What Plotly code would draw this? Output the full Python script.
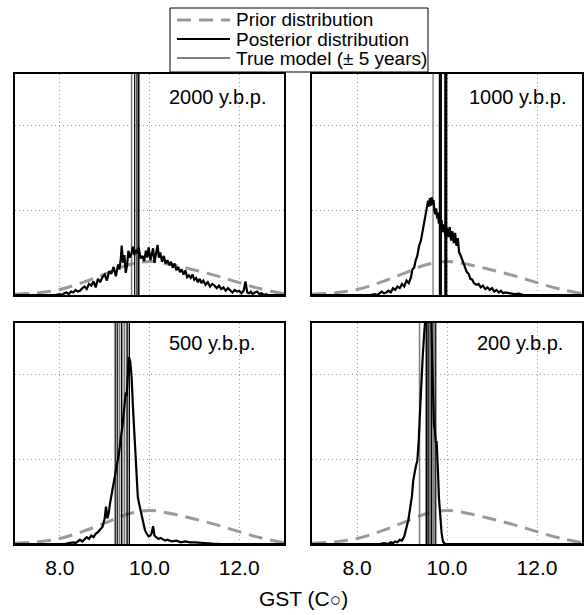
import plotly.graph_objects as go

W, H = 584, 615

panel_labels = ["2000 y.b.p.", "1000 y.b.p.", "500 y.b.p.", "200 y.b.p."]
legend_labels = ["Prior distribution", "Posterior distribution", "True model (± 5 years)"]
x_ticks = [8.0, 10.0, 12.0]
x_tick_text = ["8.0", "10.0", "12.0"]

# Prior distribution (same in every panel)
prior_x = [7.0, 7.5, 8.0, 8.5, 9.0, 9.5, 10.0, 10.5, 11.0, 11.5, 12.0, 12.5, 13.0]
prior_y = [0.01, 0.025, 0.065, 0.145, 0.245, 0.35, 0.395, 0.355, 0.295, 0.225, 0.145, 0.07, 0.015]

# Posterior distributions
post1_x = [7.0, 7.5, 7.9, 8.0, 8.05, 8.1, 8.15, 8.2, 8.25, 8.3, 8.35, 8.4, 8.45, 8.5, 8.55, 8.6, 8.65,
           8.7, 8.75, 8.8, 8.85, 8.9, 8.95, 9.0, 9.05, 9.1, 9.15, 9.2, 9.25, 9.3, 9.33, 9.36, 9.38,
           9.41, 9.44, 9.47, 9.5, 9.53, 9.56, 9.6, 9.63, 9.66, 9.7, 9.73, 9.76, 9.8, 9.84, 9.88, 9.92,
           9.95, 9.98, 10.02, 10.05, 10.08, 10.11, 10.14, 10.18, 10.21, 10.24, 10.28, 10.32, 10.36,
           10.4, 10.44, 10.48, 10.52, 10.56, 10.6, 10.64, 10.68, 10.72, 10.76, 10.8, 10.84, 10.88,
           10.92, 10.96, 11.0, 11.04, 11.08, 11.12, 11.16, 11.2, 11.25, 11.3, 11.35, 11.4, 11.45,
           11.5, 11.55, 11.6, 11.65, 11.7, 11.75, 11.8, 11.85, 11.9, 11.95, 12.0, 12.05, 12.1, 12.14,
           12.18, 12.22, 12.26, 12.3, 12.35, 12.4, 12.45, 12.5, 12.55, 12.6, 12.65, 13.0]
post1_y = [0.0, 0.0, 0.0, 0.01, 0.0, 0.02, 0.03, 0.01, 0.04, 0.03, 0.06, 0.04, 0.05, 0.08, 0.10, 0.07, 0.13,
           0.11, 0.16, 0.09, 0.19, 0.15, 0.21, 0.24, 0.17, 0.28, 0.25, 0.33, 0.22, 0.36, 0.30, 0.43, 0.58,
           0.38, 0.47, 0.26, 0.35, 0.52, 0.44, 0.49, 0.57, 0.47, 0.53, 0.49, 0.56, 0.43, 0.46, 0.40, 0.52,
           0.44, 0.56, 0.41, 0.48, 0.55, 0.38, 0.47, 0.59, 0.44, 0.50, 0.39, 0.46, 0.37,
           0.41, 0.35, 0.39, 0.32, 0.37, 0.29, 0.33, 0.27, 0.30, 0.24, 0.29, 0.21, 0.23,
           0.20, 0.24, 0.18, 0.20, 0.15, 0.19, 0.14, 0.17, 0.12, 0.15, 0.10, 0.13, 0.11,
           0.08, 0.11, 0.07, 0.09, 0.05, 0.08, 0.06, 0.03, 0.06, 0.04, 0.05, 0.02, 0.05, 0.16,
           0.03, 0.02, 0.04, 0.01, 0.03, 0.04, 0.01, 0.02, 0.0, 0.01, 0.0, 0.0]

post2_x = [7.0, 8.3, 8.4, 8.45, 8.5, 8.55, 8.6, 8.65, 8.7, 8.75, 8.8, 8.85, 8.9, 8.95, 9.0, 9.05, 9.1,
           9.15, 9.2, 9.23, 9.27, 9.3, 9.34, 9.38, 9.42, 9.46, 9.5, 9.53, 9.56, 9.58, 9.6, 9.62, 9.64,
           9.66, 9.68, 9.7, 9.72, 9.74, 9.76, 9.78, 9.8, 9.82, 9.84, 9.86, 9.88, 9.9, 9.93, 9.96, 10.0,
           10.03, 10.06, 10.09, 10.12, 10.15, 10.18, 10.21, 10.24, 10.27, 10.3, 10.33, 10.36, 10.4,
           10.44, 10.48, 10.52, 10.56, 10.6, 10.65, 10.7, 10.75, 10.8, 10.85, 10.9, 10.95, 11.0, 11.05,
           11.1, 11.15, 11.2, 11.25, 11.3, 11.4, 11.5, 11.6, 11.7, 13.0]
post2_y = [0.0, 0.0, 0.01, 0.0, 0.02, 0.04, 0.02, 0.03, 0.05, 0.03, 0.08, 0.06, 0.10, 0.08, 0.13, 0.10, 0.17,
           0.14, 0.21, 0.30, 0.32, 0.40, 0.46, 0.58, 0.64, 0.76, 0.84, 0.95, 1.02, 1.11, 1.04, 1.14, 1.05,
           1.15, 1.06, 1.12, 0.99, 0.95, 1.02, 0.90, 0.97, 0.84, 0.93, 0.78, 0.88, 0.74, 0.83, 0.70, 0.79,
           0.68, 0.80, 0.64, 0.75, 0.61, 0.73, 0.58, 0.67, 0.50, 0.47, 0.43, 0.38, 0.33,
           0.27, 0.25, 0.19, 0.18, 0.14, 0.12, 0.13, 0.09, 0.11, 0.07, 0.09, 0.06, 0.08, 0.04,
           0.06, 0.03, 0.05, 0.02, 0.03, 0.02, 0.01, 0.015, 0.0, 0.0]

post3_x = [7.0, 8.1, 8.2, 8.3, 8.35, 8.4, 8.45, 8.5, 8.55, 8.6, 8.65, 8.7, 8.75, 8.8, 8.85, 8.9, 8.95,
           9.0, 9.03, 9.06, 9.09, 9.12, 9.16, 9.2, 9.24, 9.28, 9.32, 9.36, 9.4, 9.44, 9.47, 9.49, 9.52,
           9.54, 9.57, 9.6, 9.63, 9.66, 9.69, 9.72, 9.74, 9.77, 9.8, 9.83, 9.86, 9.9, 9.94, 9.98, 10.02,
           10.05, 10.08, 10.11, 10.15, 10.2, 10.25, 10.3, 10.35, 10.4, 10.5, 10.6, 10.7, 10.8, 10.9,
           11.0, 11.2, 11.4, 11.6, 13.0]
post3_y = [0.0, 0.0, 0.01, 0.02, 0.01, 0.03, 0.05, 0.03, 0.06, 0.08, 0.06, 0.10, 0.08, 0.12, 0.14, 0.17, 0.20,
           0.30, 0.44, 0.30, 0.36, 0.48, 0.60, 0.70, 0.80, 0.93, 1.07, 1.25, 1.40, 1.62, 1.78, 1.74, 2.08,
           2.20, 2.15, 1.97, 1.62, 1.30, 1.00, 0.82, 0.55, 0.47, 0.40, 0.30, 0.22, 0.16, 0.12, 0.09, 0.10,
           0.13, 0.21, 0.10, 0.08, 0.06, 0.07, 0.05, 0.04, 0.05, 0.03, 0.04, 0.02, 0.03, 0.02,
           0.02, 0.01, 0.005, 0.0, 0.0]

post4_x = [7.0, 8.5, 8.6, 8.7, 8.75, 8.8, 8.85, 8.9, 8.95, 9.0, 9.05, 9.1, 9.14, 9.18, 9.22, 9.25, 9.28,
           9.31, 9.34, 9.37, 9.4, 9.43, 9.46, 9.49, 9.52, 9.55, 9.58, 9.62, 9.65, 9.67, 9.69, 9.71, 9.73,
           9.75, 9.77, 9.78, 9.8, 9.82, 9.85, 9.88, 9.91, 9.95, 13.0]
post4_y = [0.0, 0.0, 0.01, 0.0, 0.02, 0.01, 0.03, 0.02, 0.05, 0.04, 0.09, 0.18, 0.28, 0.42, 0.56, 0.75, 0.85,
           0.92, 0.98, 1.20, 1.55, 1.95, 2.20, 2.45, 2.70, 3.00, 3.10, 3.00, 2.70, 2.20, 1.80, 1.40, 1.35,
           1.20, 1.20, 0.95, 0.85, 0.55, 0.30, 0.13, 0.03, 0.0, 0.0]

posterior_x = [post1_x, post2_x, post3_x, post4_x]
posterior_y = [post1_y, post2_y, post3_y, post4_y]

# True model (+/- 5 years) lines: positions, black (1) or grey (0), line width
true1_x = [9.60, 9.67, 9.72, 9.76]
true1_k = [0, 1, 1, 1]
true1_w = [1.5, 1.2, 1.2, 1.6]
true2_x = [9.69, 9.84, 9.87, 9.96, 9.99]
true2_k = [0, 1, 1, 1, 1]
true2_w = [1.3, 2.0, 1.6, 2.0, 1.6]
true3_x = [9.235, 9.28, 9.33, 9.38, 9.44, 9.50, 9.55]
true3_k = [1, 1, 0, 1, 0, 1, 1]
true3_w = [1.2, 1.2, 1.8, 1.4, 1.8, 1.4, 1.4]
true4_x = [9.39, 9.54, 9.58, 9.62, 9.66, 9.71, 9.75]
true4_k = [0, 1, 1, 0, 1, 0, 1]
true4_w = [1.5, 1.5, 1.5, 2.0, 1.5, 1.8, 1.2]
true_x = [true1_x, true2_x, true3_x, true4_x]
true_k = [true1_k, true2_k, true3_k, true4_k]
true_w = [true1_w, true2_w, true3_w, true4_w]

X_RANGE = [7.0, 13.0]
Y_RANGE = [0.0, 2.6]
Y_GRID = [1.0, 2.0]

# layout in pixels
px_x = [(15, 284), (312, 582), (15, 284), (312, 582)]
px_y = [(74, 295), (74, 295), (323, 544), (323, 544)]
label_px = [(167, 97), (467, 97), (167, 343), (475, 343)]

FONT = "Liberation Sans, Arial, Helvetica, sans-serif"
PRIOR_LINE = dict(color="#999999", width=3, dash="14px,8px")
POST_LINE = dict(color="black", width=2.2)
TRUE_LINE = dict(color="black", width=1)
GRID = dict(showgrid=True, gridcolor="#9a9a9a", griddash="1px,3px", gridwidth=1)
FRAME = dict(showline=True, linecolor="black", linewidth=1.6, mirror=True, zeroline=False)


def px2p(x, y):
    return x / W, 1 - y / H


fig = go.Figure()
layout = dict(
    width=W, height=H, margin=dict(l=0, r=0, t=0, b=0),
    paper_bgcolor="white", plot_bgcolor="white",
    font=dict(family=FONT, color="black", size=20),
    showlegend=False,
)
annotations = []
shapes = []
for i in range(4):
    n = "" if i == 0 else str(i + 1)
    xa, ya = "x" + n, "y" + n
    x0, x1 = px_x[i]
    y0, y1 = px_y[i]
    bottom = i >= 2
    layout["xaxis" + n] = dict(
        domain=[x0 / W, x1 / W], anchor=ya, range=X_RANGE,
        tickvals=x_ticks, ticktext=x_tick_text, showticklabels=bottom,
        tickfont=dict(size=21), ticks="", ticklabelstandoff=4, **GRID, **FRAME,
    )
    layout["yaxis" + n] = dict(
        domain=[1 - y1 / H, 1 - y0 / H], anchor=xa, range=Y_RANGE,
        tickvals=Y_GRID, showticklabels=False, ticks="", **GRID, **FRAME,
    )
    fig.add_trace(go.Scatter(x=prior_x, y=prior_y, xaxis=xa, yaxis=ya, mode="lines",
                             line=dict(**PRIOR_LINE, shape="spline"), name=legend_labels[0]))
    for tx, k, w in zip(true_x[i], true_k[i], true_w[i]):
        fig.add_trace(go.Scatter(x=[tx, tx], y=Y_RANGE, xaxis=xa, yaxis=ya, mode="lines",
                                 line=dict(color="black" if k else "#7a7a7a", width=w),
                                 name=legend_labels[2], hoverinfo="skip"))
    fig.add_trace(go.Scatter(x=posterior_x[i], y=posterior_y[i], xaxis=xa, yaxis=ya, mode="lines",
                             line=POST_LINE, name=legend_labels[1]))
    lx, ly = label_px[i]
    ax_, ay_ = px2p(lx, ly)
    annotations.append(dict(text=panel_labels[i], x=ax_, y=ay_, xref="paper", yref="paper",
                            xanchor="left", yanchor="middle", showarrow=False,
                            font=dict(size=20, family=FONT, color="black")))

# Legend box (drawn manually to match the reference's compact layout)
bx0, by0 = px2p(170, 8)
bx1, by1 = px2p(428, 72)
shapes.append(dict(type="rect", xref="paper", yref="paper", x0=bx0, x1=bx1, y0=by1, y1=by0,
                   line=dict(color="black", width=1), fillcolor="white", layer="above"))
row_y = [20, 39, 58]
row_lines = [PRIOR_LINE, dict(color="black", width=2.2), TRUE_LINE]
for lab, ry, ln in zip(legend_labels, row_y, row_lines):
    lx0, ly = px2p(177, ry)
    lx1, _ = px2p(230, ry)
    shapes.append(dict(type="line", xref="paper", yref="paper", x0=lx0, x1=lx1, y0=ly, y1=ly,
                       line=ln, layer="above"))
    tx, _ = px2p(234, ry)
    annotations.append(dict(text=lab, x=tx, y=ly, xref="paper", yref="paper", xanchor="left",
                            yanchor="middle", showarrow=False,
                            font=dict(size=19, family=FONT, color="black")))

gx, gy = px2p(303, 598)
annotations.append(dict(text="GST (C<span style='font-size:19px'>○</span>)", x=gx, y=gy,
                        xref="paper", yref="paper", xanchor="center", yanchor="middle",
                        showarrow=False, font=dict(size=21, family=FONT, color="black")))
layout["annotations"] = annotations
layout["shapes"] = shapes
fig.update_layout(**layout)
fig.write_html("out.html")
